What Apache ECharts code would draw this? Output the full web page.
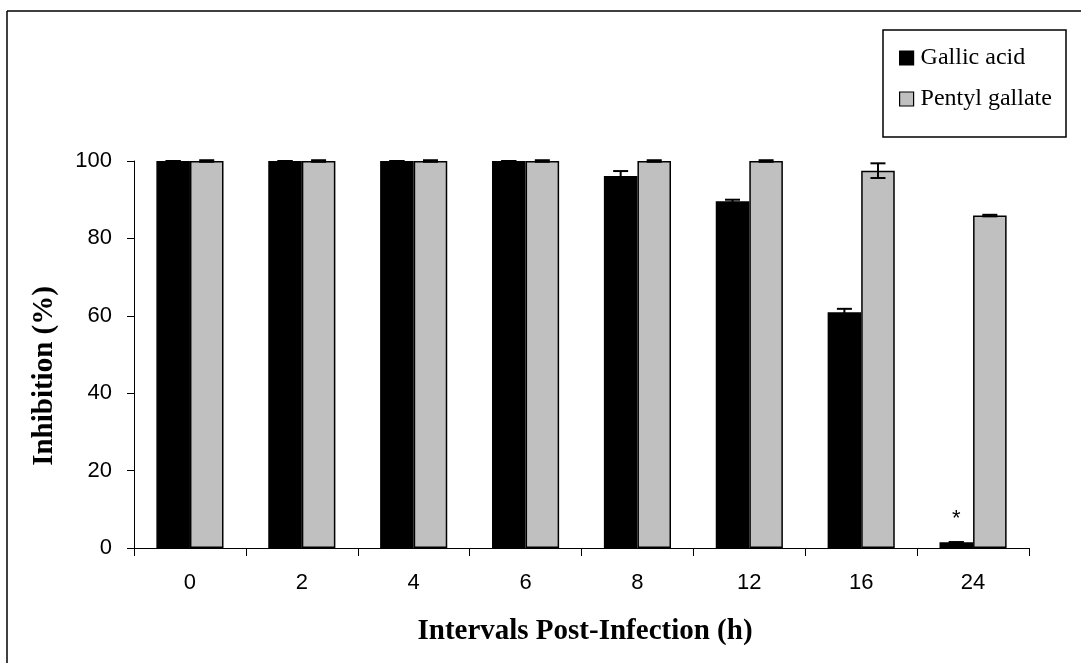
<!DOCTYPE html>
<html>
<head>
<meta charset="utf-8">
<script src="https://cdn.jsdelivr.net/npm/echarts@6/dist/echarts.min.js"></script>
<style>
html,body{margin:0;padding:0;background:#fff;}
#chart{width:1081px;height:663px;}
</style>
</head>
<body>
<div id="chart"></div>
<script>
var categories = ['0', '2', '4', '6', '8', '12', '16', '24'];
var gallicAcid = [100, 100, 100, 100, 96.1, 89.6, 60.9, 1.5];
var gallicErr = [0, 0, 0, 0, 1.3, 0.4, 0.9, 0];
var gallicNotes = ['', '', '', '', '', '', '', '*'];
var pentylGallate = [100, 100, 100, 100, 100, 100, 97.5, 85.9];
var pentylErr = [0.2, 0.2, 0.2, 0.2, 0.2, 0.2, 1.9, 0.2];
var yTicks = [0, 20, 40, 60, 80, 100];

var chart = echarts.init(document.getElementById('chart'), null, {renderer: 'canvas'});
var BAR_FRAC = 0.3;

function errSeries(name, vals, errs, side) {
  return {
    type: 'custom',
    name: name + ' error',
    z: 5,
    silent: true,
    data: vals.map(function (v, i) { return [i, v, errs[i]]; }),
    renderItem: function (params, api) {
      var idx = api.value(0), v = api.value(1), e = api.value(2);
      var bw = api.size([1, 0])[0] * BAR_FRAC;
      var top = api.coord([idx, v + e]);
      var bot = api.coord([idx, v - e]);
      var x = top[0] + side * bw / 2;
      var hw = 7.5;
      var st = {stroke: '#000', lineWidth: 2};
      return {
        type: 'group',
        children: [
          {type: 'line', shape: {x1: x, y1: top[1], x2: x, y2: bot[1]}, style: st},
          {type: 'line', shape: {x1: x - hw, y1: top[1], x2: x + hw, y2: top[1]}, style: st},
          {type: 'line', shape: {x1: x - hw, y1: bot[1], x2: x + hw, y2: bot[1]}, style: st}
        ]
      };
    }
  };
}

var option = {
  animation: false,
  backgroundColor: '#fff',
  grid: {left: 134, right: 52, top: 161, bottom: 115},
  legend: {
    left: 899,
    top: 46,
    orient: 'vertical',
    icon: 'rect',
    itemWidth: 14,
    itemHeight: 14,
    itemGap: 17,
    padding: 0,
    data: ['Gallic acid', 'Pentyl gallate'],
    itemStyle: {borderColor: '#000', borderWidth: 1.2},
    textStyle: {fontFamily: 'Liberation Serif', fontSize: 24, color: '#000', lineHeight: 24, padding: [0, 0, 0, 2]}
  },
  xAxis: {
    type: 'category',
    data: categories,
    axisLine: {lineStyle: {color: '#000', width: 1}},
    axisTick: {show: true, length: 8, lineStyle: {color: '#000'}},
    axisLabel: {fontFamily: 'Liberation Sans', fontSize: 22, color: '#000', margin: 24},
    splitLine: {show: false}
  },
  yAxis: {
    type: 'value',
    min: 0,
    max: 100,
    interval: 20,
    axisLine: {show: true, lineStyle: {color: '#000', width: 1}},
    axisTick: {show: true, length: 7, lineStyle: {color: '#000'}},
    axisLabel: {fontFamily: 'Liberation Sans', fontSize: 22, color: '#000', margin: 22,
      formatter: function (v) { return yTicks.indexOf(v) >= 0 ? String(v) : ''; }},
    splitLine: {show: false}
  },
  graphic: [
    {type: 'line', shape: {x1: 7, y1: 11, x2: 7, y2: 663}, style: {stroke: '#000', lineWidth: 1.5}},
    {type: 'line', shape: {x1: 7, y1: 11, x2: 1081, y2: 11}, style: {stroke: '#000', lineWidth: 1.5}},
    {type: 'rect', shape: {x: 883, y: 30, width: 183, height: 107}, style: {fill: 'none', stroke: '#000', lineWidth: 1.5}},
    {type: 'text', x: 45, y: 376, rotation: Math.PI / 2,
      style: {text: 'Inhibition (%)', fontFamily: 'Liberation Serif', fontWeight: 'bold', fontSize: 29, fill: '#000', align: 'center', verticalAlign: 'middle'}},
    {type: 'text', x: 585, y: 632,
      style: {text: 'Intervals Post-Infection (h)', fontFamily: 'Liberation Serif', fontWeight: 'bold', fontSize: 29, fill: '#000', align: 'center', verticalAlign: 'middle'}}
  ],
  series: [
    {
      name: 'Gallic acid',
      type: 'bar',
      barWidth: (BAR_FRAC * 100) + '%',
      barGap: '0%',
      itemStyle: {color: '#000', borderColor: '#000', borderWidth: 1.5},
      data: gallicAcid.map(function (v, i) {
        return {
          value: v,
          label: {show: gallicNotes[i] !== '', formatter: gallicNotes[i], position: 'top', distance: 12,
            fontFamily: 'Liberation Sans', fontSize: 22, color: '#000'}
        };
      })
    },
    {
      name: 'Pentyl gallate',
      type: 'bar',
      barWidth: (BAR_FRAC * 100) + '%',
      barGap: '0%',
      itemStyle: {color: '#C0C0C0', borderColor: '#000', borderWidth: 1.5},
      data: pentylGallate
    },
    errSeries('Gallic acid', gallicAcid, gallicErr, -1),
    errSeries('Pentyl gallate', pentylGallate, pentylErr, 1)
  ]
};
chart.setOption(option);
</script>
</body>
</html>
